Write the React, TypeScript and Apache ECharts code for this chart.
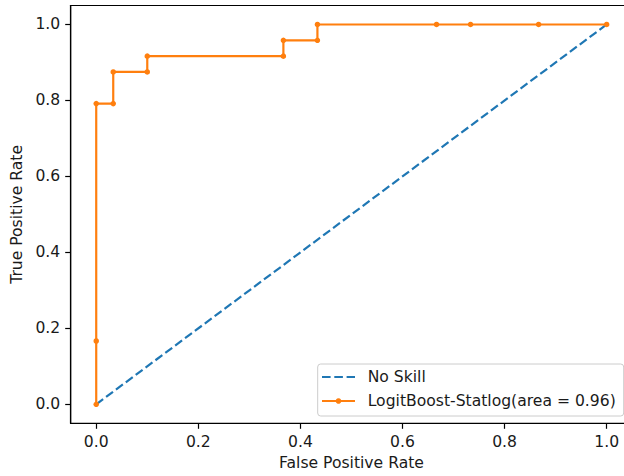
import React, { useEffect, useRef } from "react";
import * as echarts from "echarts";

const fprValues = [0, 0, 0, 1 / 30, 1 / 30, 3 / 30, 3 / 30, 11 / 30, 11 / 30, 13 / 30, 13 / 30, 20 / 30, 22 / 30, 26 / 30, 1];
const tprValues = [0, 4 / 24, 19 / 24, 19 / 24, 21 / 24, 21 / 24, 22 / 24, 22 / 24, 23 / 24, 23 / 24, 1, 1, 1, 1, 1];
const noSkillX = [0, 1];
const noSkillY = [0, 1];
const tickValues = [0, 0.2, 0.4, 0.6, 0.8, 1.0];
const seriesNames = ["No Skill", "LogitBoost-Statlog(area = 0.96)"];
const xTitle = "False Positive Rate";
const yTitle = "True Positive Rate";

const FONT = "DejaVu Sans";
const FS = 15.6;
const TXT = "#1a1a1a";
const BLUE = "#1f77b4";
const ORANGE = "#ff7f0e";
const DASH = [8.6, 3.7];

export default function App() {
  const ref = useRef<HTMLDivElement>(null);
  useEffect(() => {
    if (!ref.current) return;
    const chart = echarts.init(ref.current, null, { renderer: "svg" });
    const axisCommon = (name: string, gap: number) => ({
      type: "value" as const,
      min: -0.05,
      max: 1.05,
      name,
      nameLocation: "middle" as const,
      nameGap: gap,
      nameTextStyle: { fontFamily: FONT, fontSize: FS, color: TXT },
      axisLine: { show: true, onZero: false, lineStyle: { color: "#000", width: 1.2 } },
      axisTick: { show: true, length: 5.5, customValues: tickValues, lineStyle: { color: "#000", width: 1.2 } },
      axisLabel: {
        customValues: tickValues,
        margin: 10.5,
        fontFamily: FONT,
        fontSize: FS,
        color: TXT,
        formatter: (v: number) => v.toFixed(1),
      },
      splitLine: { show: false },
    });
    const lx = 317.7, ly = 364;
    chart.setOption({
      animation: false,
      backgroundColor: "#fff",
      grid: {
        left: 70.7,
        top: 5.5,
        width: 561.5,
        height: 417.8,
        outerBoundsMode: "none",
        containLabel: false,
        show: true,
        borderColor: "#000",
        borderWidth: 1.2,
        backgroundColor: "transparent",
      },
      xAxis: axisCommon(xTitle, 31),
      yAxis: axisCommon(yTitle, 44),
      series: [
        {
          name: seriesNames[0],
          type: "line",
          data: noSkillX.map((x, i) => [x, noSkillY[i]]),
          showSymbol: false,
          symbol: "none",
          lineStyle: { color: BLUE, width: 2.2, type: DASH },
          itemStyle: { color: BLUE },
          z: 2,
        },
        {
          name: seriesNames[1],
          type: "line",
          data: fprValues.map((x, i) => [x, tprValues[i]]),
          symbol: "circle",
          symbolSize: 5.5,
          showAllSymbol: true,
          lineStyle: { color: ORANGE, width: 2.2 },
          itemStyle: { color: ORANGE },
          z: 3,
        },
      ],
      graphic: [
        {
          type: "rect",
          shape: { x: lx, y: ly, width: 306, height: 52, r: 3 },
          style: { fill: "rgba(255,255,255,0.8)", stroke: "#cccccc", lineWidth: 1 },
          z: 10,
        },
        {
          type: "line",
          shape: { x1: 322, y1: 377, x2: 355, y2: 377 },
          style: { stroke: BLUE, lineWidth: 2.2, lineDash: DASH },
          z: 11,
        },
        {
          type: "text",
          x: 367.7,
          y: 377,
          style: { text: seriesNames[0], fontFamily: FONT, fontSize: FS, fill: TXT, verticalAlign: "middle", align: "left" },
          z: 11,
        },
        {
          type: "line",
          shape: { x1: 322, y1: 401, x2: 355, y2: 401 },
          style: { stroke: ORANGE, lineWidth: 2.2 },
          z: 11,
        },
        {
          type: "circle",
          shape: { cx: 338.5, cy: 401, r: 2.75 },
          style: { fill: ORANGE },
          z: 12,
        },
        {
          type: "text",
          x: 367.7,
          y: 401,
          style: { text: seriesNames[1], fontFamily: FONT, fontSize: FS, fill: TXT, verticalAlign: "middle", align: "left" },
          z: 11,
        },
      ],
    });
    return () => chart.dispose();
  }, []);
  return (
    <div
      ref={ref}
      style={{ position: "fixed", left: 0, top: 0, width: 624, height: 476, overflow: "hidden" }}
    />
  );
}
